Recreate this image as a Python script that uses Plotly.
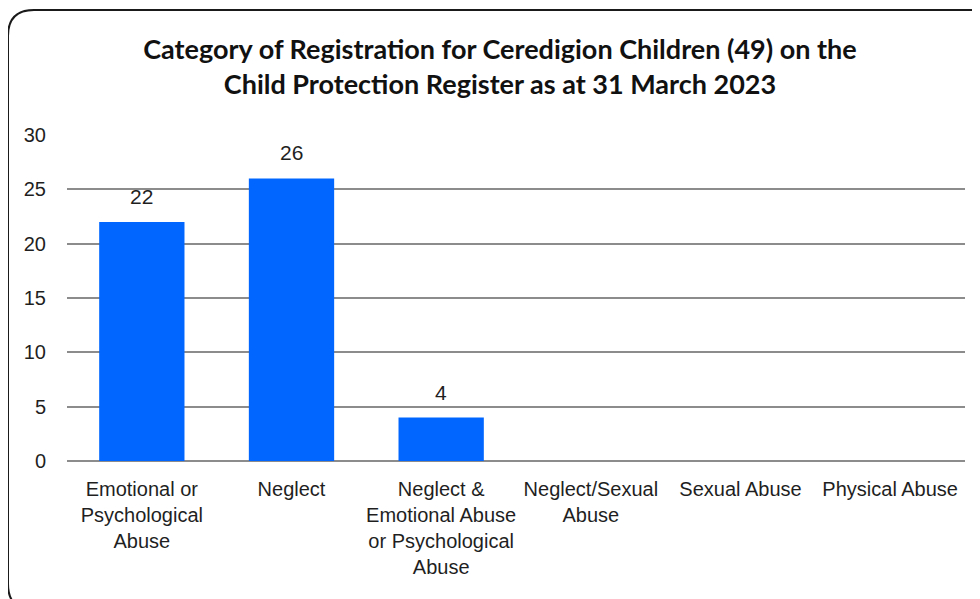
import plotly.graph_objects as go

categories = ["Emotional or<br>Psychological<br>Abuse", "Neglect",
              "Neglect &<br>Emotional Abuse<br>or Psychological<br>Abuse",
              "Neglect/Sexual<br>Abuse", "Sexual Abuse", "Physical Abuse"]
counts = [22, 26, 4, 0, 0, 0]

# page body has an 8px margin, so the figure is drawn 8px in from the window edge
W, H = 972, 591
L, R, T, B = 59, 15, 127, 138
pw, ph = W - L - R, H - T - B


def px(x):
    return (x - L) / pw


def py(y):
    return (H - B - y) / ph


# rounded frame round the chart (cut off at right and bottom)
x0, x1, y0, y1, r = 0, 992, 2, 602, 26
frame = (f"M {px(x0)},{py(y0 + r)} Q {px(x0)},{py(y0)} {px(x0 + r)},{py(y0)} "
         f"L {px(x1 - r)},{py(y0)} Q {px(x1)},{py(y0)} {px(x1)},{py(y0 + r)} "
         f"L {px(x1)},{py(y1 - r)} Q {px(x1)},{py(y1)} {px(x1 - r)},{py(y1)} "
         f"L {px(x0 + r)},{py(y1)} Q {px(x0)},{py(y1)} {px(x0)},{py(y1 - r)} Z")

fig = go.Figure(go.Bar(
    x=categories, y=counts,
    marker_color="#0066FF", marker_line_width=0,
))

# value labels above the non-zero bars
for c, v in zip(categories, counts):
    if v:
        fig.add_annotation(x=c, y=v, text=str(v), showarrow=False,
                           yanchor="bottom", yshift=12,
                           font=dict(size=21, color="#1f1f1f"))

fig.update_layout(
    width=W, height=H,
    margin=dict(l=L, r=R, t=T, b=B),
    paper_bgcolor="white", plot_bgcolor="white",
    bargap=0.43,
    showlegend=False,
    title=dict(
        text="Category of Registration for Ceredigion Children (49) on the<br>Child Protection Register as at 31 March 2023",
        x=492 / W, xanchor="center", xref="container",
        y=1 - 51 / H, yanchor="top", yref="container",
        font=dict(family="Lato, Open Sans, sans-serif", size=27, color="#111111", weight="bold"),
    ),
    font=dict(family="Liberation Sans, Arial, sans-serif", size=20, color="#1f1f1f"),
    shapes=[dict(type="path", path=frame, xref="paper", yref="paper",
                 line=dict(color="#1a1a1a", width=2), layer="above")],
)

fig.update_xaxes(showline=False, showgrid=False, ticks="", tickangle=0,
                 tickfont=dict(size=20), ticklabelstandoff=14)
fig.update_yaxes(range=[0, 30], dtick=5, showgrid=True, gridcolor="#8c8c8c", gridwidth=2,
                 zeroline=True, zerolinecolor="#8c8c8c", zerolinewidth=2, showline=False,
                 ticks="", tickfont=dict(size=20), ticklabelstandoff=20)

fig.write_html("out.html")
